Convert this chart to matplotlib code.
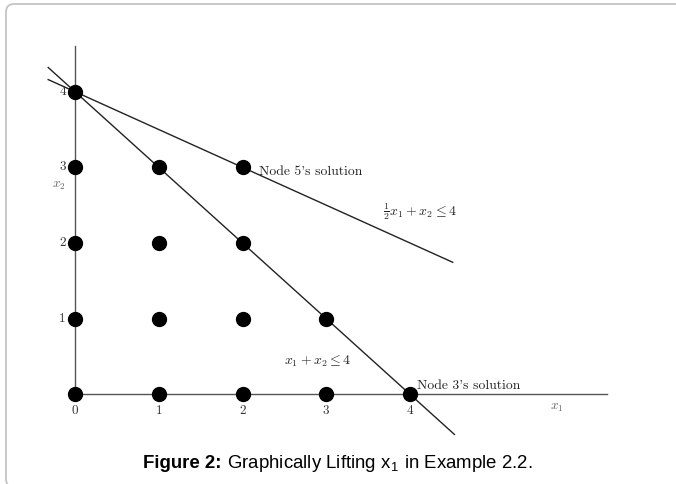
import numpy as np
import matplotlib.pyplot as plt
from matplotlib.patches import FancyBboxPatch
from matplotlib.transforms import IdentityTransform

plt.rcParams["mathtext.fontset"] = "cm"

# integer points drawn as dots
pts_x1 = [0, 0, 0, 0, 0, 1, 1, 1, 1, 2, 2, 2, 2, 3, 3, 4]
pts_x2 = [0, 1, 2, 3, 4, 0, 1, 2, 3, 0, 1, 2, 3, 0, 1, 0]

x_ticks = [0, 1, 2, 3, 4]
y_ticks = [0, 1, 2, 3, 4]

# constraint lines: x1 + x2 = 4 and 1/2 x1 + x2 = 4
line1_x = [-0.32, 4.53]
line2_x = [-0.32, 4.51]

x_axis_end = 6.35
y_axis_top = 4.6

fig = plt.figure(figsize=(6.76, 4.84), dpi=100)
ax = fig.add_axes([0, 0, 1, 1])
# pixel mapping: x0 at 75px, 83.75px/unit ; y0 at 394.3px, 75.65px/unit
ax.set_xlim(-75 / 83.75, (676 - 75) / 83.75)
ax.set_ylim((394.3 - 484) / 75.65, 394.3 / 75.65)
ax.axis("off")

# axes
ax.plot([0, x_axis_end], [0, 0], color="#555555", lw=1.0, zorder=1)
ax.plot([0, 0], [0, y_axis_top], color="#555555", lw=1.0, zorder=1)

l1x = np.array(line1_x)
ax.plot(l1x, 4 - l1x, color="#222222", lw=1.0, zorder=2)
l2x = np.array(line2_x)
ax.plot(l2x, 4 - 0.5 * l2x, color="#222222", lw=1.0, zorder=2)

ax.plot(pts_x1, pts_x2, "o", color="black", ms=10, zorder=3)

cm = "cmr10"
fs = 9.5
for t in x_ticks:
    ax.text(t, -0.22, str(t), ha="center", va="center", fontsize=fs,
            family=cm, color="#333333")
for t in y_ticks[1:]:
    ax.text(-0.15, t, str(t), ha="center", va="center", fontsize=fs,
            family=cm, color="#333333", zorder=2.5)

ax.text(-0.19, 2.76, r"$x_2$", ha="center", va="center", fontsize=fs, color="#666666")
ax.text(5.75, -0.18, r"$x_1$", ha="center", va="center", fontsize=fs, color="#666666")

ax.text(2.2, 2.94, "Node 5's solution", ha="left", va="center", fontsize=9.8, family=cm, color="#222222")
ax.text(4.08, 0.11, "Node 3's solution", ha="left", va="center", fontsize=9.8, family=cm, color="#222222")
ax.text(3.68, 2.41, r"$\frac{1}{2}x_1 + x_2 \leq 4$", ha="left", va="center", fontsize=10, color="#222222")
ax.text(2.5, 0.43, r"$x_1 + x_2 \leq 4$", ha="left", va="center", fontsize=10, color="#222222")

# caption, bold part + regular part centred together
t1 = fig.text(0, 0, "Figure 2:", fontsize=13.4, fontweight="bold", family="Liberation Sans")
t2 = fig.text(0, 0, " Graphically Lifting x$_{\\mathregular{1}}$ in Example 2.2.", fontsize=13.4,
              family="Liberation Sans")
fig.canvas.draw()
r = fig.canvas.get_renderer()
w1 = t1.get_window_extent(r).width
w2 = t2.get_window_extent(r).width
start = (676 - w1 - w2) / 2
yb = 484 - 468
t1.set_transform(IdentityTransform())
t2.set_transform(IdentityTransform())
t1.set_position((start, yb))
t2.set_position((start + w1, yb))

border = FancyBboxPatch((6, -3), 690, 483, boxstyle="round,pad=0,rounding_size=8",
                        transform=IdentityTransform(), fill=False,
                        edgecolor="#c4c4c4", lw=1.3)
fig.patches.append(border)

fig.savefig("out.png", dpi=100)
